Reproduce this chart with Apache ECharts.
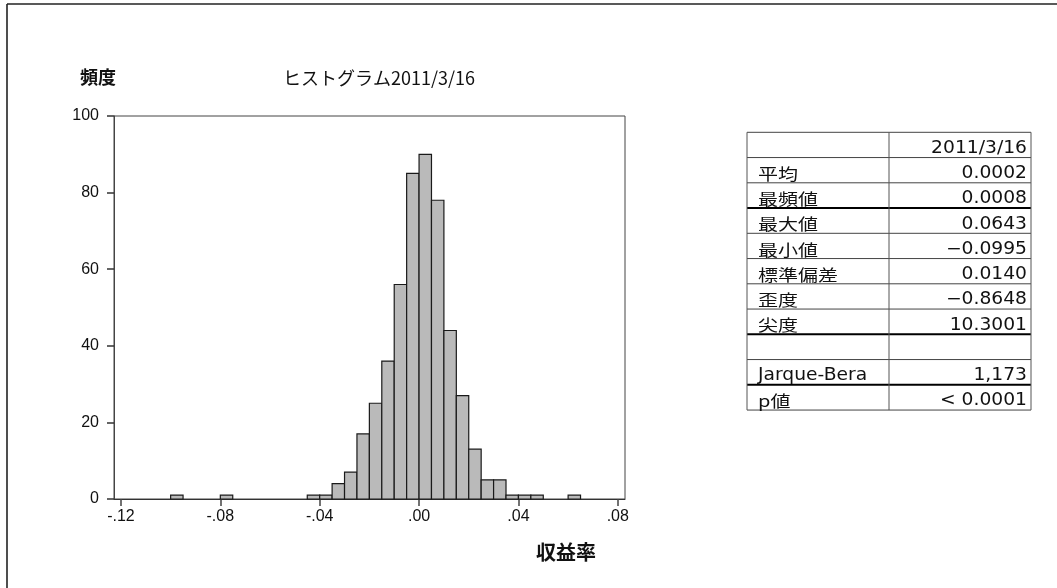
<!DOCTYPE html>
<html>
<head>
<meta charset="utf-8">
<title>ヒストグラム2011/3/16</title>
<script src="https://cdn.jsdelivr.net/npm/echarts@6/dist/echarts.min.js"></script>
<style>
  html, body { margin: 0; padding: 0; background: #ffffff; }
  #chart { width: 1057px; height: 588px; }
</style>
</head>
<body>
<div id="chart"></div>
<script>
// Histogram of daily returns: left edge of each bin and its frequency
const BIN_WIDTH = 0.005;
const binLeft = [-0.100, -0.080, -0.045, -0.040, -0.035, -0.030, -0.025, -0.020, -0.015, -0.010, -0.005,
                 0.000, 0.005, 0.010, 0.015, 0.020, 0.025, 0.030, 0.035, 0.040, 0.045, 0.060];
const binCount = [1, 1, 1, 1, 4, 7, 17, 25, 36, 56, 85,
                  90, 78, 44, 27, 13, 5, 5, 1, 1, 1, 1];

// Axis ticks
const xTicks = [-0.12, -0.08, -0.04, 0.00, 0.04, 0.08];
const yTicks = [0, 20, 40, 60, 80, 100];

// Summary statistics table
const statHeader = '2011/3/16';
const statLabels = ['平均', '最頻値', '最大値', '最小値', '標準偏差', '歪度', '尖度', '', 'Jarque-Bera', 'p値'];
const statValues = ['0.0002', '0.0008', '0.0643', '−0.0995', '0.0140', '−0.8648', '10.3001', '', '1,173', '< 0.0001'];

const CJK = '"Noto Sans CJK JP", "Noto Sans", sans-serif';
const LAT = '"Liberation Sans", Arial, sans-serif';
const TABLE_LAT = '"DejaVu Sans", "Noto Sans CJK JP", sans-serif';

function tickLabel(v) {
  const s = Math.abs(v).toFixed(2).replace(/^0/, '');
  return (v < -1e-9 ? '-' : '') + s;
}

// Table layout
const T_LEFT = 747, T_MID = 889, T_RIGHT = 1031, T_TOP = 132.3, ROW_H = 25.25;
const heavyRows = [3, 8, 10];
const nRows = statLabels.length + 1;

const graphic = [];
// outer frame (top and left edges)
graphic.push({ type: 'line', shape: { x1: 7, y1: 4, x2: 1057, y2: 4 }, style: { stroke: '#222', lineWidth: 1.6 } });
graphic.push({ type: 'line', shape: { x1: 7, y1: 4, x2: 7, y2: 588 }, style: { stroke: '#222', lineWidth: 1.6 } });

// chart headings
graphic.push({ type: 'text', x: 80, y: 77, style: { text: '頻度', font: 'bold 18px ' + CJK, fill: '#111', verticalAlign: 'middle' } });
graphic.push({ type: 'text', x: 283, y: 78, style: { text: 'ヒストグラム2011/3/16', font: '18px ' + CJK, fill: '#111', verticalAlign: 'middle' } });
graphic.push({ type: 'text', x: 566, y: 552, style: { text: '収益率', font: 'bold 20px ' + CJK, fill: '#111', align: 'center', verticalAlign: 'middle' } });

// table grid
for (let r = 0; r <= nRows; r++) {
  const y = T_TOP + r * ROW_H;
  const heavy = heavyRows.indexOf(r) >= 0;
  graphic.push({ type: 'line', shape: { x1: T_LEFT, y1: y, x2: T_RIGHT, y2: y },
    style: { stroke: heavy ? '#000' : '#444', lineWidth: heavy ? 2 : 1 } });
}
const tBottom = T_TOP + nRows * ROW_H;
[T_LEFT, T_MID, T_RIGHT].forEach(function (x) {
  graphic.push({ type: 'line', shape: { x1: x, y1: T_TOP, x2: x, y2: tBottom }, style: { stroke: '#555', lineWidth: 1 } });
});

// table text
function cell(text, x, rowIdx, align, font, sx) {
  const yc = T_TOP + (rowIdx + 1) * ROW_H - 9;
  graphic.push({ type: 'text', x: x, y: yc, scaleX: sx,
    style: { text: text, font: font, fill: '#111', align: align, verticalAlign: 'middle' } });
}
const isLatin = function (t) { return /^[\x00-\x7F\u2212]+$/.test(t); };
cell(statHeader, 1027, 0, 'right', '17px ' + TABLE_LAT, 1.1);
statLabels.forEach(function (t, i) {
  if (!t) return;
  if (isLatin(t)) cell(t, 758, i + 1, 'left', '17px ' + TABLE_LAT, 1.1);
  else cell(t, 758, i + 1, 'left', '16px ' + CJK, 1.25);
});
statValues.forEach(function (t, i) { if (t) cell(t, 1027, i + 1, 'right', '17px ' + TABLE_LAT, 1.1); });

const chart = echarts.init(document.getElementById('chart'));
chart.setOption({
  animation: false,
  backgroundColor: '#ffffff',
  grid: { left: 114, top: 116, width: 511, height: 383, show: true, borderColor: '#444', borderWidth: 1, backgroundColor: 'transparent' },
  xAxis: {
    type: 'value',
    min: -0.1228,
    max: 0.0829,
    axisLine: { show: true, onZero: false, lineStyle: { color: '#333', width: 1 } },
    axisTick: { show: true, length: 7, inside: false, customValues: xTicks, lineStyle: { color: '#444', width: 1.5 } },
    axisLabel: { customValues: xTicks, formatter: tickLabel, margin: 10, color: '#111', fontFamily: LAT, fontSize: 16 },
    splitLine: { show: false }
  },
  yAxis: {
    type: 'value',
    min: 0,
    max: 100,
    interval: 20,
    axisLine: { show: true, onZero: false, lineStyle: { color: '#444', width: 1 } },
    axisTick: { show: true, length: 7, inside: false, lineStyle: { color: '#333', width: 1.5 } },
    axisLabel: { margin: 15, color: '#111', fontFamily: LAT, fontSize: 16 },
    splitLine: { show: false }
  },
  series: [{
    type: 'custom',
    data: binLeft.map(function (b, i) { return [b, binCount[i]]; }),
    encode: { x: 0, y: 1 },
    renderItem: function (params, api) {
      const x0 = api.value(0);
      const n = api.value(1);
      const p0 = api.coord([x0, 0]);
      const p1 = api.coord([x0 + BIN_WIDTH, n]);
      return {
        type: 'rect',
        shape: { x: p0[0], y: p1[1], width: p1[0] - p0[0], height: p0[1] - p1[1] },
        style: { fill: '#bababa', stroke: '#1a1a1a', lineWidth: 1.2 }
      };
    }
  }],
  graphic: graphic
});
</script>
</body>
</html>
